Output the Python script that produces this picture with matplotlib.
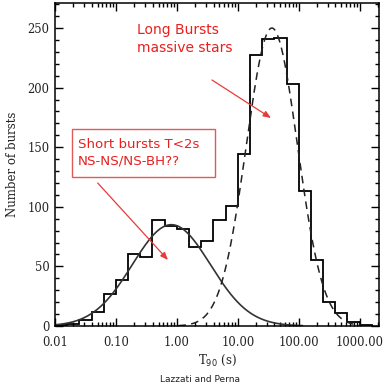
import numpy as np
import matplotlib
matplotlib.use("Agg")
import matplotlib.pyplot as plt
from matplotlib.patches import Rectangle
from matplotlib.ticker import FixedLocator, LogLocator, NullFormatter, MultipleLocator

# ---- data ----
log_bin_edges = np.arange(-2.0, 3.2001, 0.2)          # log10(T90) bin edges
counts = [0.5, 1.5, 5, 11.5, 26.5, 38.5, 60, 58, 89, 83.5, 81, 66.5, 71, 89,
          101, 144, 227, 241, 242, 203, 113, 55, 20, 11, 3, 1]
short_peak, short_mu, short_sigma = 85, -0.09, 0.64    # log-normal fit, short
long_peak, long_mu, long_sigma = 250, 1.56, 0.42       # log-normal fit, long
xtick_vals = [0.01, 0.1, 1, 10, 100, 1000]
xtick_labels = ["0.01", "0.10", "1.00", "10.00", "100.00", "1000.00"]
ytick_vals = [0, 50, 100, 150, 200, 250]

W, H = 388, 390
fig = plt.figure(figsize=(W / 100, H / 100), dpi=100)
ax = fig.add_axes([55 / W, (H - 326) / H, (379 - 55) / W, (326 - 3) / H])

edges = 10 ** log_bin_edges
ax.stairs(counts, edges, color="black", lw=1.3, baseline=0)

lx = np.linspace(-2, 3.3, 800)
ys = short_peak * np.exp(-(lx - short_mu) ** 2 / (2 * short_sigma ** 2))
yl = long_peak * np.exp(-(lx - long_mu) ** 2 / (2 * long_sigma ** 2))
ys = np.where(ys > 0.3, ys, np.nan)
yl = np.where(yl > 0.3, yl, np.nan)
ax.plot(10 ** lx, ys, color="#333333", lw=1.2)
ax.plot(10 ** lx, yl, color="#222222", lw=1.1, ls=(0, (5, 3.5)))

ax.set_xscale("log")
ax.set_xlim(0.01, 2080)
ax.set_ylim(0, 271)
ax.xaxis.set_major_locator(FixedLocator(xtick_vals))
ax.set_xticklabels(xtick_labels)
ax.xaxis.set_minor_locator(LogLocator(base=10, subs=np.arange(2, 10), numticks=20))
ax.xaxis.set_minor_formatter(NullFormatter())
ax.set_yticks(ytick_vals)
ax.yaxis.set_minor_locator(MultipleLocator(10))

serif = "DejaVu Serif"
ax.tick_params(which="both", direction="in", top=True, right=True, width=1, colors="black")
ax.tick_params(which="major", length=5.5, labelsize=8.3)
ax.tick_params(axis="y", which="major", pad=4)
ax.tick_params(axis="x", which="major", pad=7)
ax.tick_params(which="minor", length=3)
for lab in ax.get_xticklabels() + ax.get_yticklabels():
    lab.set_fontfamily(serif)
    lab.set_color("#222222")
for s in ax.spines.values():
    s.set_linewidth(1.1)

ax.set_ylabel("Number of bursts", fontfamily=serif, fontsize=8.5, color="#222222", labelpad=6)
ax.set_xlabel("T$_{90}$ (s)", fontfamily=serif, fontsize=8.5, color="#222222", labelpad=3)

red = "#e8201e"
fig.text(137 / W, 1 - 39 / H, "Long Bursts\nmassive stars", color=red, fontsize=10,
         fontfamily="DejaVu Sans", ha="left", va="center", linespacing=1.45)
fig.text(78 / W, 1 - 153 / H, "Short bursts T<2s\nNS-NS/NS-BH??", color=red, fontsize=9.6,
         fontfamily="DejaVu Sans", ha="left", va="center", linespacing=1.33)
fig.patches.append(Rectangle((71.7 / W, 1 - 177.3 / H), (215 - 71.7) / W, (177.3 - 129.3) / H,
                             transform=fig.transFigure, fill=False, ec="#e05a5a", lw=1.0))

arrow_kw = dict(arrowstyle="-|>,head_length=0.45,head_width=0.18", color="#e83a3a", lw=0.9,
                shrinkA=0, shrinkB=0)
ax.annotate("", xy=(271, H - 118), xytext=(212, H - 80), xycoords="figure pixels",
            textcoords="figure pixels", arrowprops=arrow_kw)
ax.annotate("", xy=(168, H - 260), xytext=(97.7, H - 183), xycoords="figure pixels",
            textcoords="figure pixels", arrowprops=arrow_kw)

fig.text(200 / W, 1 - 380 / H, "Lazzati and Perna", fontsize=6.5, fontfamily="DejaVu Sans",
         ha="center", va="center", color="#222222")

fig.savefig("out.png", dpi=100)
